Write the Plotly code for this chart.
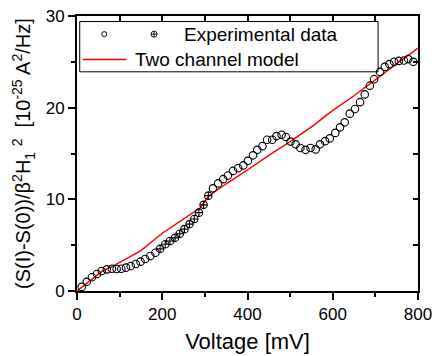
import plotly.graph_objects as go

# Experimental data (open circles)
exp_v_open = [11, 23, 35, 47, 58, 70, 82, 93, 104, 115, 126, 138, 149, 160, 172, 184,
              319, 331, 343, 354, 366, 378, 390, 401, 413, 423, 435, 446, 458, 468, 480,
              490, 501, 513, 524, 536, 548, 560, 570, 582, 593, 606, 617, 628, 640, 652,
              664, 675, 687, 697, 711, 722, 733, 744, 755, 767, 777, 789]
exp_y_open = [0.45, 1.0, 1.5, 1.85, 2.18, 2.36, 2.43, 2.4, 2.42, 2.55, 2.72, 2.94, 3.2, 3.49, 3.82, 4.18,
              11.2, 11.74, 12.2, 12.6, 13.1, 13.4, 13.7, 14.2, 14.8, 15.4, 15.8, 16.5, 16.5, 16.9, 17.05,
              16.8, 16.3, 16.0, 15.6, 15.4, 15.6, 15.45, 16.0, 16.35, 16.65, 17.25, 17.85, 18.4, 19.35, 19.85,
              20.6, 21.45, 22.4, 23.1, 23.9, 24.45, 24.75, 25.0, 25.1, 25.15, 25.3, 25.0]
# Experimental data (crossed circles)
exp_v_cross = [195, 207, 218, 230, 241, 252, 264, 275, 286, 297, 308]
exp_y_cross = [4.6, 5.1, 5.45, 5.8, 6.25, 6.75, 7.3, 7.85, 8.55, 9.4, 10.4]

# Two channel model
model_v = [0, 20, 40, 60, 80, 100, 150, 200, 250, 290, 300, 310, 350, 400, 450, 500, 550, 600, 650, 700, 750, 800]
model_y = [0, 0.75, 1.55, 2.2, 2.6, 3.1, 4.4, 6.3, 7.9, 9.1, 9.8, 10.4, 11.7, 13.2, 14.8, 16.3, 17.9, 19.7, 21.3, 23.1, 24.8, 26.5]

x_ticks = [0, 200, 400, 600, 800]
y_ticks = [0, 10, 20, 30]

FONT = "Liberation Sans, Arial, sans-serif"

fig = go.Figure()
fig.add_trace(go.Scatter(x=model_v, y=model_y, mode="lines",
                         line=dict(color="#ff0000", width=1.5), showlegend=False))
fig.add_trace(go.Scatter(x=exp_v_open, y=exp_y_open, mode="markers",
                         marker=dict(symbol="circle-open", size=7.5, color="black", line=dict(width=1.1)),
                         showlegend=False))
fig.add_trace(go.Scatter(x=exp_v_cross, y=exp_y_cross, mode="markers",
                         marker=dict(symbol="circle-cross-open", size=7.5, color="black", line=dict(width=1.1)),
                         showlegend=False))
# trace to activate the mirrored top/right axes
fig.add_trace(go.Scatter(x=[None], y=[None], xaxis="x2", yaxis="y2", showlegend=False, hoverinfo="skip"))

# custom legend symbols on an auxiliary paper-like axis
fig.add_trace(go.Scatter(x=[0.080], y=[0.934], xaxis="x3", yaxis="y3", mode="markers",
                         marker=dict(symbol="circle-open", size=5, color="black", line=dict(width=1)),
                         showlegend=False, hoverinfo="skip"))
fig.add_trace(go.Scatter(x=[0.226], y=[0.934], xaxis="x3", yaxis="y3", mode="markers",
                         marker=dict(symbol="circle-cross-open", size=6, color="black", line=dict(width=0.9)),
                         showlegend=False, hoverinfo="skip"))
fig.add_trace(go.Scatter(x=[0.017, 0.145], y=[0.842, 0.842], xaxis="x3", yaxis="y3", mode="lines",
                         line=dict(color="#ff0000", width=1.5), showlegend=False, hoverinfo="skip"))

axis_common = dict(showgrid=False, zeroline=False, showline=True, linecolor="black", linewidth=2,
                   automargin=False)

fig.update_layout(
    width=437, height=356,
    margin=dict(l=77, r=19, t=16, b=65, autoexpand=False),
    paper_bgcolor="white", plot_bgcolor="white",
    font=dict(family=FONT, color="black"),
    xaxis=dict(range=[0, 800], tickvals=x_ticks, ticks="outside", ticklen=7, tickwidth=1.5,
               tickcolor="black", tickfont=dict(size=17),
               minor=dict(dtick=100, ticks="outside", ticklen=4, tickwidth=1.5, tickcolor="black"),
               title=dict(text="Voltage [mV]", font=dict(size=22), standoff=10),
               **axis_common),
    yaxis=dict(range=[0, 30], tickvals=y_ticks, ticks="outside", ticklen=7, tickwidth=1.5,
               tickcolor="black", tickfont=dict(size=17),
               minor=dict(dtick=5, ticks="outside", ticklen=4, tickwidth=1.5, tickcolor="black"),
               **axis_common),
    xaxis2=dict(range=[0, 800], overlaying="x", side="top", anchor="y", dtick=100, ticks="inside",
                ticklen=5, tickwidth=1.5, tickcolor="black", showticklabels=False, **axis_common),
    yaxis2=dict(range=[0, 30], overlaying="y", side="right", anchor="x", dtick=5, ticks="inside",
                ticklen=5, tickwidth=1.5, tickcolor="black", showticklabels=False, **axis_common),
    xaxis3=dict(range=[0, 1], domain=[0, 1], anchor="y3", overlaying="x", visible=False, fixedrange=True),
    yaxis3=dict(range=[0, 1], domain=[0, 1], anchor="x3", overlaying="y", visible=False, fixedrange=True),
    showlegend=False,
)

# legend box
fig.add_shape(type="rect", xref="paper", yref="paper", x0=0.008, x1=0.883, y0=0.797, y1=0.980,
              line=dict(color="black", width=1), fillcolor="white", layer="below")
fig.add_annotation(text="Experimental data", xref="paper", yref="paper", x=0.308, y=0.934,
                   xanchor="left", yanchor="middle", showarrow=False, font=dict(size=19))
fig.add_annotation(text="Two channel model", xref="paper", yref="paper", x=0.164, y=0.842,
                   xanchor="left", yanchor="middle", showarrow=False, font=dict(size=19))

# y-axis title
fig.add_annotation(text="(S(I)-S(0))/β<sup>2</sup>H<sub>1</sub> <sup>2</sup>  [10<sup>-25</sup> A<sup>2</sup>/Hz]",
                   xref="paper", yref="paper", x=-0.157, y=0.5, textangle=-90,
                   xanchor="center", yanchor="middle", showarrow=False, font=dict(size=20))

fig.write_html("out.html")
